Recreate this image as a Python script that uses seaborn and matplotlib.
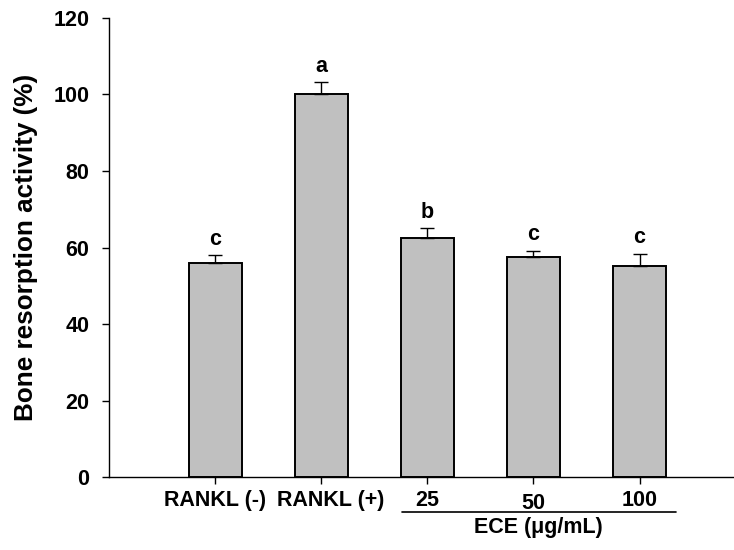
import numpy as np
import pandas as pd
import seaborn as sns
import matplotlib.pyplot as plt
import matplotlib.transforms as mtransforms

# Data
groups = ['RANKL (-)', 'RANKL (+)', '25', '50', '100']
activity = [56.0, 100.0, 62.6, 57.6, 55.2]
sem = [2.0, 3.2, 2.4, 1.6, 3.1]
letters = ['c', 'a', 'b', 'c', 'c']

df = pd.DataFrame({'group': groups, 'activity': activity})

sns.set_style('ticks')
plt.rcParams['font.family'] = ['Liberation Sans', 'DejaVu Sans']
plt.rcParams['font.weight'] = 'bold'
for k in ['text.color', 'axes.labelcolor', 'xtick.color', 'ytick.color', 'axes.edgecolor']:
    plt.rcParams[k] = 'black'

fig = plt.figure(figsize=(7.34, 5.5), dpi=100)
ax = fig.add_axes([0.1485, 0.1327, 0.8515, 0.8346])

sns.barplot(data=df, x='group', y='activity', order=groups, color='#c0c0c0',
            saturation=1, width=0.5, edgecolor='black', linewidth=1.4,
            errorbar=None, ax=ax)

x = np.arange(len(groups))
ax.errorbar(x, activity, yerr=[np.zeros(len(sem)), sem], fmt='none',
            ecolor='black', elinewidth=1.0, capsize=4.8, capthick=1.0, zorder=1)

# significance letters
for xi, v, e, s in zip(x, activity, sem, letters):
    ax.annotate(s, (xi, v + e), xytext=(0, 4), textcoords='offset points',
                ha='center', va='bottom', fontsize=15.5, fontweight='bold')

ax.set_xlim(-1.0, 4.89)
ax.set_ylim(0, 120)
ax.set_yticks([0, 20, 40, 60, 80, 100, 120])
sns.despine(ax=ax, top=True, right=True)
for sp in ['left', 'bottom']:
    ax.spines[sp].set_linewidth(1.0)

ax.tick_params(axis='y', direction='out', length=5, width=1, pad=9, labelsize=15.5)
ax.tick_params(axis='x', direction='out', length=5, width=1, pad=4, labelsize=15.5)
for lab in ax.get_xticklabels() + ax.get_yticklabels():
    lab.set_fontweight('bold')

# small label nudges as in the original
xlabs = ax.get_xticklabels()
xlabs[1].set_transform(xlabs[1].get_transform() +
                       mtransforms.ScaledTranslation(0.09, 0, fig.dpi_scale_trans))
xlabs[3].set_transform(xlabs[3].get_transform() +
                       mtransforms.ScaledTranslation(0, -0.03, fig.dpi_scale_trans))

ax.set_xlabel('')
ax.set_ylabel('Bone resorption activity (%)', fontsize=18.8, fontweight='bold')
ax.yaxis.set_label_coords(-0.113, 0.5)

# group bracket for ECE concentrations
trans = ax.get_xaxis_transform()
ax.plot([1.757, 4.344], [-0.077, -0.077], color='black', lw=1.2,
        transform=trans, clip_on=False)
ax.text(3.05, -0.088, 'ECE (\u03bcg/mL)', transform=trans, ha='center', va='top',
        fontsize=15.5, fontweight='bold')

fig.savefig('out.png', dpi=100)
